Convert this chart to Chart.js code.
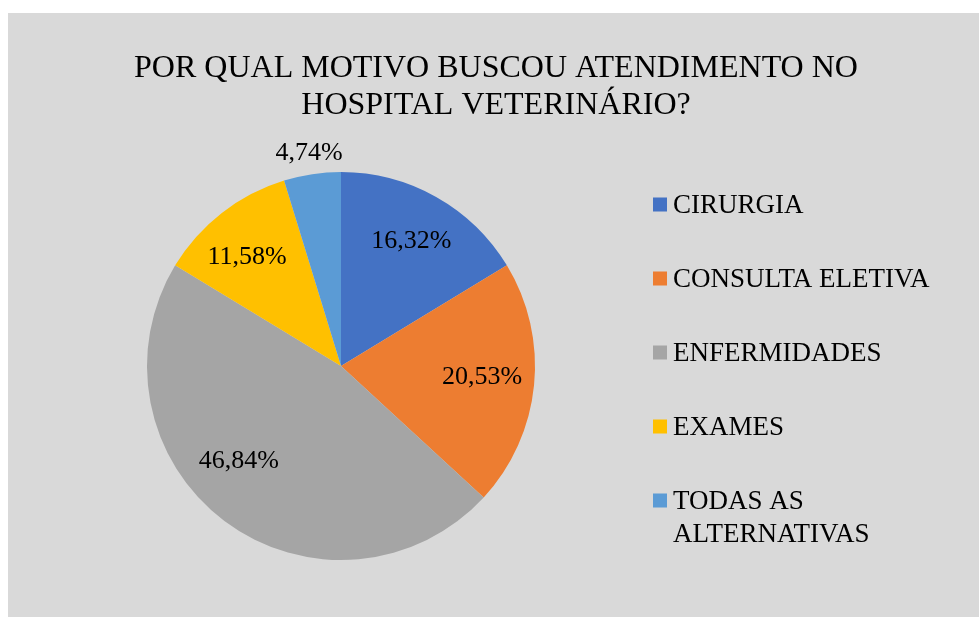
<!DOCTYPE html>
<html>
<head>
<meta charset="utf-8">
<script src="https://cdn.jsdelivr.net/npm/chart.js@4/dist/chart.umd.min.js"></script>
<style>
  html, body { margin: 0; padding: 0; background: #ffffff; }
  #panel { position: absolute; left: 8px; top: 13px; width: 971px; height: 604px; background: #d9d9d9; }
  canvas { display: block; }
</style>
</head>
<body>
<div id="panel"><canvas id="chart" width="971" height="604"></canvas></div>
<script>
const categories = ['CIRURGIA', 'CONSULTA ELETIVA', 'ENFERMIDADES', 'EXAMES', 'TODAS AS ALTERNATIVAS'];
const legendLines = [['CIRURGIA'], ['CONSULTA ELETIVA'], ['ENFERMIDADES'], ['EXAMES'], ['TODAS AS', 'ALTERNATIVAS']];
const percentages = [16.32, 20.53, 46.84, 11.58, 4.74];
const sliceColors = ['#4472c4', '#ed7d31', '#a5a5a5', '#ffc000', '#5b9bd5'];
const titleLines = ['POR QUAL MOTIVO BUSCOU ATENDIMENTO NO', 'HOSPITAL VETERINÁRIO?'];

const serif = '"Liberation Serif", "Times New Roman", serif';

function fmt(v) {
  return v.toFixed(2).replace('.', ',') + '%';
}

// label placement like Excel's "best fit": radius factor and angle nudge (deg) per slice
const labelRadius = [0.74, 0.73, 0.72, 0.74, 1.11];
const labelNudge = [0, -1, 10, -3, 0];

const decorPlugin = {
  id: 'decor',
  afterDraw(chart) {
    const ctx = chart.ctx;
    ctx.save();
    ctx.fillStyle = '#000000';

    // title
    ctx.font = '32px ' + serif;
    ctx.textAlign = 'center';
    ctx.textBaseline = 'alphabetic';
    titleLines.forEach((line, i) => {
      ctx.fillText(line, 488, 64 + i * 36.5);
    });

    // data labels
    ctx.font = '26px ' + serif;
    ctx.textBaseline = 'middle';
    const meta = chart.getDatasetMeta(0);
    meta.data.forEach((arc, i) => {
      const mid = (arc.startAngle + arc.endAngle) / 2 + labelNudge[i] * Math.PI / 180;
      const r = arc.outerRadius * labelRadius[i];
      ctx.fillText(fmt(percentages[i]), arc.x + Math.cos(mid) * r, arc.y + Math.sin(mid) * r);
    });

    // legend
    ctx.font = '27px ' + serif;
    ctx.textAlign = 'left';
    legendLines.forEach((lines, i) => {
      const y = 191.5 + i * 74;
      ctx.fillStyle = sliceColors[i];
      ctx.fillRect(645, y - 7, 14, 14);
      ctx.fillStyle = '#000000';
      lines.forEach((t, j) => ctx.fillText(t, 665, y + 1 + j * 33));
    });
    ctx.restore();
  }
};

new Chart(document.getElementById('chart'), {
  type: 'pie',
  data: {
    labels: categories,
    datasets: [{
      data: percentages,
      backgroundColor: sliceColors,
      borderWidth: 0
    }]
  },
  options: {
    responsive: false,
    animation: false,
    layout: { padding: { left: 139, right: 444, top: 159, bottom: 57 } },
    plugins: {
      legend: { display: false },
      title: { display: false },
      tooltip: { enabled: false }
    }
  },
  plugins: [decorPlugin]
});
</script>
</body>
</html>
